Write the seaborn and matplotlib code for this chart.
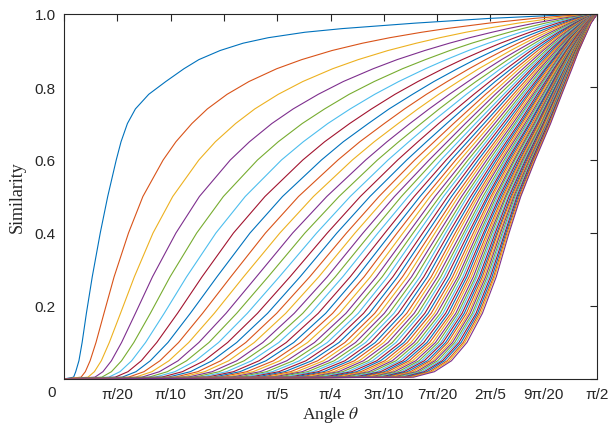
import numpy as np
import pandas as pd
import matplotlib
matplotlib.use("Agg")
import matplotlib.pyplot as plt
import seaborn as sns

# Angle at which each curve reaches a given similarity level,
# in units of pi/2000 rad (so 1000 = pi/2). Entry k belongs to curve k+1.
# Lists for the upper levels only hold the curves that are still apart there.
theta_y0005 = [18, 32, 45, 58, 71, 84, 96, 109, 121, 134, 146, 159, 171, 183, 195, 208, 220, 232, 244, 256, 268, 280, 291, 303, 314, 326, 337, 348, 359, 370, 381, 391, 401, 412, 422, 431, 441, 451, 460, 469, 478, 487, 495, 504, 512, 520, 528, 536, 544, 551, 558, 566, 573, 579, 586, 593, 599, 605, 611, 617, 623, 629, 635, 640, 645, 651, 656]
theta_y002 = [22, 40, 57, 73, 89, 105, 120, 135, 150, 165, 179, 194, 208, 222, 237, 251, 264, 278, 291, 305, 318, 330, 343, 355, 368, 380, 391, 403, 414, 425, 436, 447, 457, 467, 477, 487, 496, 506, 515, 523, 532, 540, 549, 557, 564, 572, 579, 587, 594, 601, 607, 614, 620, 627, 633, 638, 644, 650, 655, 661, 666, 671, 676, 681, 686, 690, 695]
theta_y005 = [28, 49, 70, 89, 108, 127, 145, 162, 180, 197, 214, 230, 247, 263, 278, 294, 309, 324, 338, 352, 366, 379, 393, 405, 418, 430, 442, 454, 465, 476, 487, 497, 507, 517, 527, 536, 545, 554, 562, 571, 579, 587, 594, 602, 609, 616, 623, 630, 636, 642, 648, 654, 660, 666, 671, 676, 682, 687, 692, 696, 701, 706, 710, 714, 719, 723, 727]
theta_y010 = [34, 60, 85, 108, 131, 153, 174, 195, 215, 234, 253, 272, 290, 307, 324, 341, 357, 373, 388, 403, 417, 431, 444, 457, 470, 482, 494, 505, 516, 527, 537, 547, 557, 566, 575, 584, 592, 600, 608, 616, 623, 631, 638, 644, 651, 657, 663, 669, 675, 681, 686, 692, 697, 702, 707, 711, 716, 720, 725, 729, 733, 737, 741, 745, 749, 752, 756]
theta_y018 = [42, 75, 106, 134, 162, 188, 213, 237, 260, 282, 304, 324, 344, 363, 382, 399, 416, 432, 448, 463, 477, 491, 504, 517, 529, 540, 552, 562, 573, 583, 592, 601, 610, 619, 627, 635, 643, 650, 657, 664, 670, 677, 683, 689, 695, 700, 706, 711, 716, 721, 726, 730, 735, 739, 743, 747, 751, 755, 759, 762, 766, 769, 773, 776, 779, 782, 785]
theta_y028 = [53, 94, 132, 166, 199, 230, 259, 287, 313, 337, 361, 383, 404, 424, 443, 461, 478, 494, 509, 523, 537, 550, 563, 575, 586, 597, 607, 617, 626, 635, 644, 652, 660, 668, 675, 682, 689, 695, 701, 707, 713, 718, 724, 729, 734, 739, 743, 748, 752, 756, 760, 764, 768, 772, 775, 779, 782, 785, 788, 791, 794, 797, 800, 803, 806, 808, 811]
theta_y040 = [68, 121, 167, 210, 249, 285, 318, 349, 378, 405, 429, 452, 474, 494, 512, 530, 546, 561, 576, 589, 602, 614, 625, 636, 646, 655, 664, 673, 681, 689, 696, 703, 710, 716, 722, 728, 734, 739, 745, 750, 754, 759, 763, 768, 772, 776, 780, 783, 787, 790, 794, 797, 800, 803, 806, 809, 812, 814, 817, 819, 822, 824, 827, 829, 831, 833, 835]
theta_y050 = [82, 148, 204, 254, 299, 340, 377, 410, 440, 468, 493, 516, 537, 556, 574, 591, 606, 620, 633, 646, 657, 668, 678, 687, 696, 705, 712, 720, 727, 734, 740, 746, 752, 757, 763, 768, 773, 777, 781, 786, 790, 794, 797, 801, 804, 808, 811, 814, 817, 820, 823, 825, 828, 830, 833, 835, 838, 840, 842, 844, 846, 848, 850, 852, 854, 856, 857]
theta_y060 = [98, 186, 253, 312, 363, 408, 448, 483, 514, 541, 566, 588, 608, 626, 643, 658, 672, 685, 696, 707, 717, 726, 735, 743, 751, 758, 765, 771, 777, 783, 788, 793, 798, 803, 807, 811, 815, 819, 822, 826, 829, 832, 835, 838, 841, 844, 846, 849, 851, 854, 856, 858, 860, 862, 864, 866, 868, 870, 872, 873, 875, 877, 878, 880, 881, 883, 884]
theta_y065 = [107, 210, 284, 348, 402, 449, 489, 524, 555, 582, 606, 628, 647, 664, 680]
theta_y070 = [119, 240, 322, 390, 447, 495, 536, 571, 601, 627, 649, 670, 687, 703, 718, 731, 743, 753, 763, 772, 780, 788, 795, 802, 808, 814, 819, 824, 829, 834, 838, 842, 846, 849, 853, 856, 859, 862, 865, 868, 870, 873, 875, 878, 880, 882, 884, 886, 888, 890, 891, 893, 895, 896, 898, 899, 901, 902, 903, 905, 906, 907, 908, 910, 911, 912, 913]
theta_y074 = [134, 269, 358, 430, 489, 537, 577, 610, 639, 664, 685, 704, 721, 736, 749]
theta_y078 = [159, 306, 402, 477, 535, 583, 621, 654, 680, 703, 723, 740, 755, 769, 781, 791, 801, 809, 817, 825, 831, 837, 843, 848, 853, 858, 862, 866, 870, 873, 877, 880, 883, 885, 888, 891, 893, 895, 898, 900, 902, 904, 905, 907, 909, 910, 912, 914, 915, 916, 918, 919, 920, 922, 923, 924, 925, 926, 927, 928, 929, 930, 931, 932, 933, 933, 934]
theta_y0815 = [191, 347, 448, 524, 582, 628, 664, 694, 719, 740, 758, 773, 787, 799, 809]
theta_y085 = [225, 399, 504, 580, 635, 678, 711, 738, 760, 778, 794, 808, 819, 830, 839, 847, 854, 861, 867, 872, 877, 881, 886, 890, 893, 897, 900, 903, 905, 908, 910, 913, 915, 917, 919, 921, 922, 924, 926, 927, 929, 930, 932, 933, 934, 935, 936, 937, 939, 940, 941, 941, 942, 943, 944, 945, 946, 947, 947, 948, 949, 949, 950, 951, 951, 952, 953]
theta_y0875 = [253, 446, 552, 625, 678, 717, 747, 771, 791, 808, 821, 833, 844, 853, 861]
theta_y090 = [293, 503, 608, 677, 724, 759, 786, 807, 824, 838, 850, 860, 869, 876, 883, 889, 895, 899, 904, 908, 911, 915, 918, 920, 923, 926, 928, 930, 932, 934, 936, 937, 939, 940, 942, 943, 944, 946, 947, 948, 949, 950, 951, 952, 953, 954, 954, 955, 956, 957, 957, 958, 959, 959, 960, 960, 961, 962, 962, 963, 963, 964, 964, 965, 965, 966, 966]
theta_y092 = [336, 560, 661, 723, 765, 796, 819, 837, 852, 864, 874, 883, 890, 896, 902]
theta_y0935 = [383, 611, 705, 761, 799, 826, 846, 861, 874, 884, 893, 900, 907, 912, 917, 921, 925, 928, 932, 934, 937, 939, 942, 944, 945, 947, 949, 950, 952, 953, 954, 956, 957, 958, 959]
theta_y095 = [452, 671, 754, 803, 835, 857, 874, 887, 897, 906, 913, 919, 924, 928, 932]
theta_y096 = [522, 717, 791, 833, 860, 880, 894, 905, 913, 921, 927, 932, 936, 940, 943, 946, 949, 951, 953, 955]
theta_y0975 = [659, 797, 852, 883, 903, 916, 926, 934, 940, 945, 949, 953, 956, 958, 961, 963, 964, 966, 968, 969, 970, 971, 972, 973, 974, 975, 976, 977, 977, 978, 978, 979, 980, 980, 980, 981, 981, 982, 982, 983, 983, 983, 984, 984, 984, 984, 985, 985, 985, 985, 986, 986, 986, 986, 987, 987, 987, 987, 987, 988, 988, 988, 988, 988, 988, 988, 989]
theta_y0988 = [799, 882, 916, 933, 945, 952, 958, 962, 966, 969, 971, 973, 975, 976, 978, 979, 980, 981, 982, 982, 983, 984, 984, 985, 985, 986, 986, 987, 987, 987]
theta_y0996 = [916, 949, 964, 971, 976, 980, 982, 984, 985, 987, 988, 988, 989, 990, 990]

sim_levels = [0.005, 0.02, 0.05, 0.1, 0.18, 0.28, 0.4, 0.5, 0.6, 0.65, 0.7, 0.74, 0.78, 0.815,
              0.85, 0.875, 0.9, 0.92, 0.935, 0.95, 0.96, 0.975, 0.988, 0.996]
level_thetas = [theta_y0005, theta_y002, theta_y005, theta_y010, theta_y018, theta_y028, theta_y040,
                theta_y050, theta_y060, theta_y065, theta_y070, theta_y074, theta_y078, theta_y0815,
                theta_y085, theta_y0875, theta_y090, theta_y092, theta_y0935, theta_y095, theta_y096,
                theta_y0975, theta_y0988, theta_y0996]

# every curve starts at similarity 0 for angle 0 and ends at 1 for angle pi/2
start_theta, start_sim = 0, 0.0
end_theta, end_sim = 1000, 1.0
n_curves = len(theta_y050)

tick_labels = ["0", "π/20", "π/10", "3π/20", "π/5", "π/4", "3π/10", "7π/20", "2π/5", "9π/20", "π/2"]
ytick_values = [0, 0.2, 0.4, 0.6, 0.8, 1.0]
ytick_labels = ["", "0.2", "0.4", "0.6", "0.8", "1.0"]

unit = np.pi / 2000
rows = []
for i in range(n_curves):
    rows.append((i + 1, start_theta * unit, start_sim))
    for lv, arr in zip(sim_levels, level_thetas):
        if i < len(arr):
            rows.append((i + 1, arr[i] * unit, lv))
    rows.append((i + 1, end_theta * unit, end_sim))
df = pd.DataFrame(rows, columns=["curve", "theta", "sim"])

matlab = ["#0072BD", "#D95319", "#EDB120", "#7E2F8E", "#77AC30", "#4DBEEE", "#A2142F"]
palette = [matlab[i % 7] for i in range(n_curves)]

sns.set_theme(style="white")
plt.rcParams["font.family"] = ["Liberation Sans", "DejaVu Sans"]
plt.rcParams["mathtext.fontset"] = "stix"

fig = plt.figure(figsize=(6.08, 4.27), dpi=100)
ax = fig.add_axes([64/608, 1-380/427, (597-64)/608, (380-15)/427])
sns.lineplot(data=df, x="theta", y="sim", hue="curve", palette=palette,
             legend=False, estimator=None, sort=False, linewidth=0.8, ax=ax)

xt = [k*np.pi/20 for k in range(len(tick_labels))]
ax.set_xlim(0, np.pi/2)
ax.set_ylim(0, 1)
ax.set_xticks(xt)
ax.set_xticklabels([""] + tick_labels[1:], fontsize=11, color="#262626")
ax.set_yticks(ytick_values)
ax.set_yticklabels(ytick_labels, fontsize=11, color="#262626")
ax.annotate(tick_labels[0], xy=(0, 0), xycoords="axes fraction", xytext=(-12, -13),
            textcoords="offset pixels", ha="center", va="center", fontsize=11, color="#262626")
ax.tick_params(direction="in", length=5, width=0.8, top=True, right=True, color="#262626", pad=6)
for s in ax.spines.values():
    s.set_visible(True)
    s.set_color("#262626")
    s.set_linewidth(0.8)
ax.set_xlabel("Angle $\\theta$", fontfamily="Liberation Serif", fontsize=12.5, labelpad=2)
ax.set_ylabel("Similarity", fontfamily="Liberation Serif", fontsize=13, labelpad=6)
fig.savefig("out.png", dpi=100)
